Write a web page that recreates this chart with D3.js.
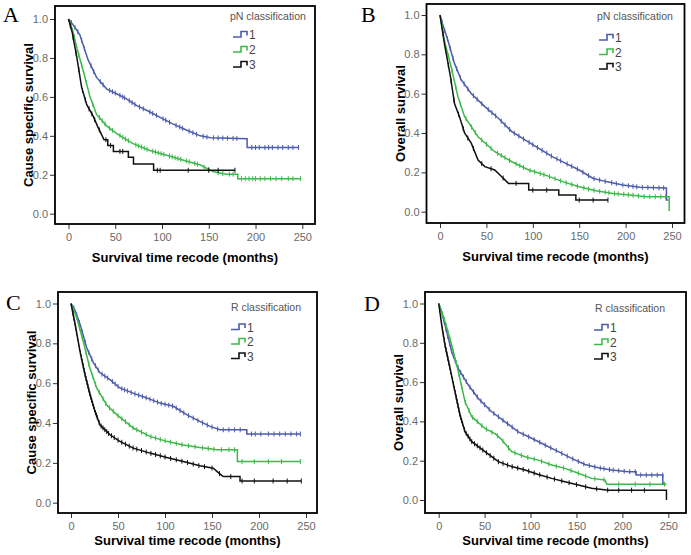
<!DOCTYPE html>
<html>
<head>
<meta charset="utf-8">
<script src="https://cdn.jsdelivr.net/npm/d3@7"></script>
<style>
  html, body { margin: 0; padding: 0; background: #fff; }
  svg { display: block; }
  .tick text { font-family: "Liberation Sans", Arial, sans-serif; font-size: 11px; fill: #6a6a6a; }
  .tick line { stroke: #333; }
</style>
</head>
<body>
<svg id="chart" width="691" height="555"></svg>
<script>
// ---------------- DATA ----------------
const xTicks = [0, 50, 100, 150, 200, 250];
const yTicks = [0.0, 0.2, 0.4, 0.6, 0.8, 1.0];
const groupLabels = ["1", "2", "3"];
const panelLetters = ["A", "B", "C", "D"];
const panelYTitles = ["Cause specific survival", "Overall survival", "Cause specific survival", "Overall survival"];
const panelLegendTitles = ["pN classification", "pN classification", "R classification", "R classification"];
const xTitle = "Survival time recode (months)";

// Panel A: cause-specific survival by pN
const cssPn1 = [[0,1],[5,0.97],[12,0.92],[21,0.79],[30,0.70],[41,0.64],[52,0.615],[62,0.59],[73,0.555],[84,0.53],[98,0.495],[112,0.46],[126,0.43],[141,0.40],[152,0.39],[191,0.385],[191,0.34],[246,0.34]];
const cssPn2 = [[0,1],[4,0.95],[9,0.85],[16,0.73],[23,0.60],[30,0.51],[41,0.45],[52,0.41],[69,0.36],[87,0.325],[105,0.30],[123,0.275],[141,0.25],[155,0.215],[169,0.203],[181,0.203],[181,0.18],[248,0.18]];
const cssPn3 = [[0,1],[4,0.93],[9,0.80],[14,0.65],[19.5,0.56],[26.5,0.50],[31,0.45],[35,0.41],[38,0.38],[42,0.38],[42,0.35],[48,0.35],[48,0.32],[64,0.32],[64,0.29],[69.5,0.29],[69.5,0.255],[91,0.255],[91,0.223],[178,0.223]];
const cssPn1Cens = [3,7,10,14,17,24,27,34,37,44,47,50,55,58,60,65,68,71,76,80,87,90,94,101,104,108,115,119,122,129,133,137,144,148,155,160,165,170,176,180,196,200,204,210,214,218,224,229,235,240,246];
const cssPn2Cens = [2,6,11,14,19,26,33,36,39,44,47,55,58,61,64,72,75,78,81,84,90,93,96,99,102,108,111,114,117,120,126,129,135,138,145,150,160,165,172,176,185,189,193,197,200,205,210,216,222,228,235,240,248];
const cssPn3Cens = [2,5,8,11,15,18,22,25,28,33,40,45,55,58,95,98,128,150,160,178];

// Panel B: overall survival by pN
const osPn1 = [[0,1],[3,0.95],[8.4,0.873],[15.6,0.754],[22.9,0.67],[33.8,0.60],[48.3,0.534],[62.9,0.475],[77.4,0.407],[92,0.364],[106.5,0.322],[121,0.28],[135.5,0.246],[150,0.212],[164.6,0.17],[179,0.153],[197,0.136],[215.5,0.124],[244,0.12],[244,0.06],[246,0.06]];
const osPn2 = [[0,1],[4.7,0.87],[12,0.737],[19.3,0.585],[26.5,0.483],[41,0.381],[59,0.305],[77.4,0.254],[95.6,0.212],[113.7,0.186],[132,0.153],[150,0.127],[168,0.107],[186.4,0.093],[204.6,0.085],[222.7,0.076],[247,0.076],[247,0.003]];
const osPn3 = [[0,1],[4.7,0.856],[11.3,0.686],[15.6,0.55],[21,0.483],[26.5,0.40],[33.8,0.347],[41,0.263],[48.3,0.229],[59,0.212],[66.5,0.178],[73.8,0.144],[95.6,0.144],[95.6,0.11],[128,0.11],[128,0.085],[146.4,0.085],[146.4,0.059],[181,0.059]];
const osPn1Cens = [2,5,8,11,14,18,22,26,30,36,40,45,52,56,60,66,70,75,80,85,90,96,100,105,110,115,120,126,130,137,142,148,154,160,166,172,178,185,190,197,203,208,212,218,224,230,236,241];
const osPn2Cens = [2,5,9,13,17,22,28,34,38,45,50,55,62,66,70,75,82,86,90,97,102,108,112,118,124,130,136,142,148,155,160,166,172,178,182,188,192,198,203,208,214,220,226,232,238,243];
const osPn3Cens = [3,6,9,12,15,20,25,30,36,45,55,68,82,100,115,150,165,181];

// Panel C: cause-specific survival by R
const cssR1 = [[0,1],[4,0.97],[9.6,0.896],[16.7,0.778],[23.8,0.703],[30.9,0.652],[41.5,0.618],[52,0.576],[66,0.55],[80.5,0.526],[94.7,0.50],[108.9,0.484],[123,0.442],[137,0.408],[148,0.383],[158.5,0.366],[187,0.366],[187,0.345],[244,0.345]];
const cssR2 = [[0,1],[6,0.93],[13,0.81],[20,0.677],[27.3,0.576],[38,0.49],[48.6,0.442],[66.3,0.375],[84,0.333],[101.8,0.308],[119.5,0.29],[137,0.277],[150,0.27],[155,0.266],[177,0.266],[177,0.207],[244,0.207]];
const cssR3 = [[0,1],[4.3,0.896],[9.6,0.76],[14.9,0.644],[20.2,0.543],[25.5,0.459],[30.9,0.39],[41.5,0.341],[52,0.308],[66.3,0.274],[84,0.249],[101.8,0.227],[119.5,0.207],[137,0.185],[151.4,0.173],[157,0.15],[162,0.131],[179.8,0.131],[179.8,0.109],[245,0.109]];
const cssR1Cens = [3,6,9,12,15,19,22,26,29,33,36,39,44,47,50,54,57,60,64,68,72,76,80,84,88,92,96,100,104,108,112,116,120,125,130,135,140,145,150,156,162,168,174,180,192,196,202,210,216,222,228,234,240,244];
const cssR2Cens = [3,6,9,12,16,19,23,26,30,34,37,41,45,50,54,58,62,66,70,75,80,85,90,95,100,106,112,118,125,132,140,146,152,160,168,174,182,195,210,224,244];
const cssR3Cens = [2,3,4,5,6,7,8,9,10,11,12,13,14,15,16,17,18,19,20,21,22,23,24,25,26,27,28,30,32,34,36,38,40,43,46,50,54,58,62,66,70,75,80,85,90,95,100,106,112,118,124,130,136,142,150,158,170,182,195,215,230,245];

// Panel D: overall survival by R
const osR1 = [[0,1],[3,0.96],[6.9,0.89],[14.2,0.754],[21.4,0.669],[32.3,0.585],[43.2,0.517],[57.7,0.449],[72.2,0.398],[86.7,0.347],[101.2,0.314],[115.7,0.28],[130.3,0.246],[144.8,0.212],[159.3,0.181],[173.8,0.164],[188.3,0.153],[206.5,0.144],[215,0.144],[215,0.127],[244,0.127],[244,0.085],[246,0.085]];
const osR2 = [[0,1],[3,0.96],[6.9,0.907],[14.2,0.788],[21.4,0.653],[28.7,0.5],[36,0.424],[50.4,0.364],[62,0.335],[68,0.31],[79.5,0.246],[94,0.22],[108.5,0.203],[123,0.178],[137.5,0.161],[152,0.136],[166.5,0.11],[181,0.102],[183,0.08],[248,0.08]];
const osR3 = [[0,1],[3.3,0.89],[6.9,0.788],[12.3,0.67],[17.8,0.55],[23.2,0.432],[28.7,0.347],[36,0.297],[50.4,0.246],[65,0.195],[79.5,0.17],[94,0.153],[108.5,0.13],[123,0.11],[137.5,0.093],[152,0.076],[166.5,0.06],[184.7,0.05],[248,0.05],[248,0.0]];
const osR1Cens = [2,4,6,8,10,12,14,16,18,21,24,27,30,34,38,42,46,50,55,60,65,70,75,80,86,92,98,104,110,116,122,128,134,140,146,152,158,164,170,176,180,186,190,196,202,208,214,220,226,232,238,244];
const osR2Cens = [2,4,6,8,10,12,14,16,19,22,25,29,33,37,42,47,52,58,64,70,76,83,90,97,104,112,120,128,136,144,152,160,170,180,196,214,230,246];
const osR3Cens = [1,2,3,4,5,6,7,8,9,10,11,12,13,14,15,16,17,18,19,20,21,22,23,24,25,26,28,30,32,34,36,39,42,45,48,52,56,60,65,70,75,80,86,92,98,104,110,118,126,134,142,150,160,172,184,196,210,224];

const seriesColors = ["#4c5cab", "#3cb94a", "#111111"];

const panelSeries = [
  [cssPn1, cssPn2, cssPn3],
  [osPn1, osPn2, osPn3],
  [cssR1, cssR2, cssR3],
  [osR1, osR2, osR3]
];
const panelCens = [
  [cssPn1Cens, cssPn2Cens, cssPn3Cens],
  [osPn1Cens, osPn2Cens, osPn3Cens],
  [cssR1Cens, cssR2Cens, cssR3Cens],
  [osR1Cens, osR2Cens, osR3Cens]
];

// ---------------- LAYOUT ----------------
const layouts = [
  { box: [55, 6, 315, 224], xr: [68.5, 302.3], yr: [213.7, 19],
    letter: [3, 22], yTitleX: 33, xTitleY: 262, legend: [230, 20, 233, 34.5, 15] },
  { box: [426.5, 4, 684.5, 223], xr: [440, 672], yr: [211.7, 15],
    letter: [361, 22], yTitleX: 405, xTitleY: 261, legend: [597, 20, 599, 37.5, 14.5] },
  { box: [58, 292, 317, 513], xr: [71, 306], yr: [502.7, 303.5],
    letter: [6, 310], yTitleX: 36, xTitleY: 545, legend: [231, 311, 231, 327, 14.5] },
  { box: [425, 292, 686, 513], xr: [438.7, 668.3], yr: [500, 303.5],
    letter: [364, 311], yTitleX: 403, xTitleY: 545, legend: [595, 312, 594, 327.5, 14.5] }
];

const svg = d3.select("#chart");
const font = "'Liberation Sans', Arial, sans-serif";

function survAt(curve, t) {
  let v = curve[0][1];
  for (let i = 0; i < curve.length - 1; i++) {
    const a = curve[i], b = curve[i + 1];
    if (t >= a[0] && t <= b[0]) {
      if (b[0] === a[0]) { v = b[1]; continue; }
      return a[1] + (b[1] - a[1]) * (t - a[0]) / (b[0] - a[0]);
    }
  }
  return curve[curve.length - 1][1];
}

layouts.forEach((L, p) => {
  const g = svg.append("g");
  const x = d3.scaleLinear().domain([0, 250]).range(L.xr);
  const y = d3.scaleLinear().domain([0, 1]).range(L.yr);
  const [bl, bt, br, bb] = L.box;

  g.append("g")
    .attr("transform", `translate(${bl},0)`)
    .call(d3.axisLeft(y).tickValues(yTicks).tickFormat(d3.format(".1f")).tickSize(5).tickPadding(2))
    .call(s => s.select(".domain").remove());
  g.append("g")
    .attr("transform", `translate(0,${bb})`)
    .call(d3.axisBottom(x).tickValues(xTicks).tickFormat(d3.format("d")).tickSize(5).tickPadding(4))
    .call(s => s.select(".domain").remove());

  const line = d3.line().x(d => x(d[0])).y(d => y(d[1]));
  panelSeries[p].forEach((curve, i) => {
    g.append("path")
      .attr("d", line(curve))
      .attr("fill", "none")
      .attr("stroke", seriesColors[i])
      .attr("stroke-width", 1.5);
    g.selectAll(null)
      .data(panelCens[p][i])
      .enter().append("line")
      .attr("x1", t => x(t)).attr("x2", t => x(t))
      .attr("y1", t => y(survAt(curve, t)) - 2.5)
      .attr("y2", t => y(survAt(curve, t)) + 2.5)
      .attr("stroke", seriesColors[i])
      .attr("stroke-width", 1);
  });

  g.append("rect")
    .attr("x", bl).attr("y", bt)
    .attr("width", br - bl).attr("height", bb - bt)
    .attr("fill", "none").attr("stroke", "#000").attr("stroke-width", 1.8);

  g.append("text")
    .attr("x", (bl + br) / 2).attr("y", L.xTitleY)
    .attr("text-anchor", "middle")
    .attr("font-family", font).attr("font-weight", "bold").attr("font-size", 13)
    .text(xTitle);
  g.append("text")
    .attr("transform", `translate(${L.yTitleX},${(bt + bb) / 2}) rotate(-90)`)
    .attr("text-anchor", "middle")
    .attr("font-family", font).attr("font-weight", "bold").attr("font-size", 13)
    .text(panelYTitles[p]);
  g.append("text")
    .attr("x", L.letter[0]).attr("y", L.letter[1])
    .attr("font-family", "'Liberation Serif', 'Times New Roman', serif").attr("font-size", 22)
    .text(panelLetters[p]);

  const [ltx, lty, lsx, lsy, lstep] = L.legend;
  g.append("text")
    .attr("x", ltx).attr("y", lty)
    .attr("font-family", font).attr("font-size", 10.5).attr("fill", "#555")
    .text(panelLegendTitles[p]);
  groupLabels.forEach((lab, i) => {
    const cy = lsy + i * lstep;
    g.append("path")
      .attr("d", `M${lsx},${cy + 2.5}H${lsx + 8}V${cy - 3}H${lsx + 14}V${cy + 1}`)
      .attr("fill", "none").attr("stroke", seriesColors[i]).attr("stroke-width", 1.6);
    g.append("text")
      .attr("x", lsx + 16).attr("y", cy + 4.5)
      .attr("font-family", font).attr("font-size", 12).attr("fill", "#444")
      .text(lab);
  });
});
</script>
</body>
</html>
